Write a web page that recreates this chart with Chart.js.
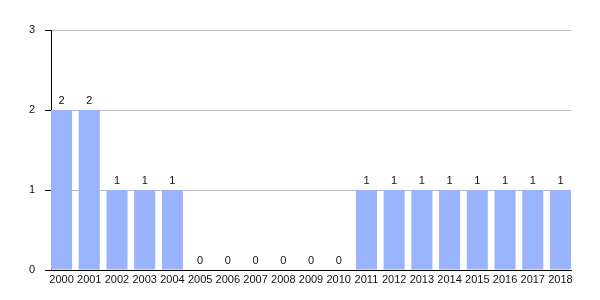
<!DOCTYPE html>
<html>
<head>
<meta charset="utf-8">
<script src="https://cdn.jsdelivr.net/npm/chart.js@4/dist/chart.umd.min.js"></script>
<style>
  html, body { margin: 0; padding: 0; background: #fff; }
  #wrap { width: 600px; height: 300px; }
</style>
</head>
<body>
<div id="wrap"><canvas id="c"></canvas></div>
<script>
const years = ['2000','2001','2002','2003','2004','2005','2006','2007','2008','2009',
               '2010','2011','2012','2013','2014','2015','2016','2017','2018'];
const counts = [2, 2, 1, 1, 1, 0, 0, 0, 0, 0, 0, 1, 1, 1, 1, 1, 1, 1, 1];
const yTicks = [0, 1, 2, 3];

// bars sit flush against both ends of the plot, so use a linear x scale
const barFrac = 0.76;
const edge = barFrac / 2;

const valueLabels = {
    id: 'valueLabels',
    afterDatasetsDraw(chart) {
        const ctx = chart.ctx;
        const meta = chart.getDatasetMeta(0);
        ctx.save();
        ctx.font = '11px "Liberation Sans", Arial, sans-serif';
        ctx.fillStyle = '#111';
        ctx.textAlign = 'center';
        ctx.textBaseline = 'bottom';
        meta.data.forEach((bar, i) => {
            ctx.fillText(String(counts[i]), bar.x, bar.y - 4);
        });
        ctx.restore();
    }
};

new Chart(document.getElementById('c'), {
    type: 'bar',
    data: {
        datasets: [{
            data: counts.map((v, i) => ({ x: i, y: v })),
            backgroundColor: '#99b3ff',
            barPercentage: barFrac,
            categoryPercentage: 1.0
        }]
    },
    options: {
        responsive: true, maintainAspectRatio: false, animation: false,
        layout: { padding: { top: 30, right: 29, left: 0, bottom: 0 } },
        plugins: { legend: { display: false }, tooltip: { enabled: false } },
        scales: {
            x: {
                type: 'linear',
                offset: false,
                min: -edge, max: years.length - 1 + edge,
                afterBuildTicks: (s) => { s.ticks = years.map((_, i) => ({ value: i })); },
                grid: { display: false, drawTicks: false },
                border: { color: '#000', width: 1 },
                ticks: {
                    color: '#111', font: { family: '"Liberation Sans", Arial, sans-serif', size: 11 },
                    maxRotation: 0, autoSkip: false, padding: 3,
                    callback: (v) => years[v]
                },
                afterFit: (s) => { s.height = 30; }
            },
            y: {
                min: 0, max: 3,
                afterBuildTicks: (s) => { s.ticks = yTicks.map(v => ({ value: v })); },
                grid: { color: '#bbb', tickColor: '#000', tickLength: 6 },
                border: { color: '#000', width: 1 },
                ticks: { color: '#111', font: { family: '"Liberation Sans", Arial, sans-serif', size: 11 }, padding: 10 },
                afterFit: (s) => { s.width = 51; }
            }
        }
    },
    plugins: [valueLabels]
});
</script>
</body>
</html>
